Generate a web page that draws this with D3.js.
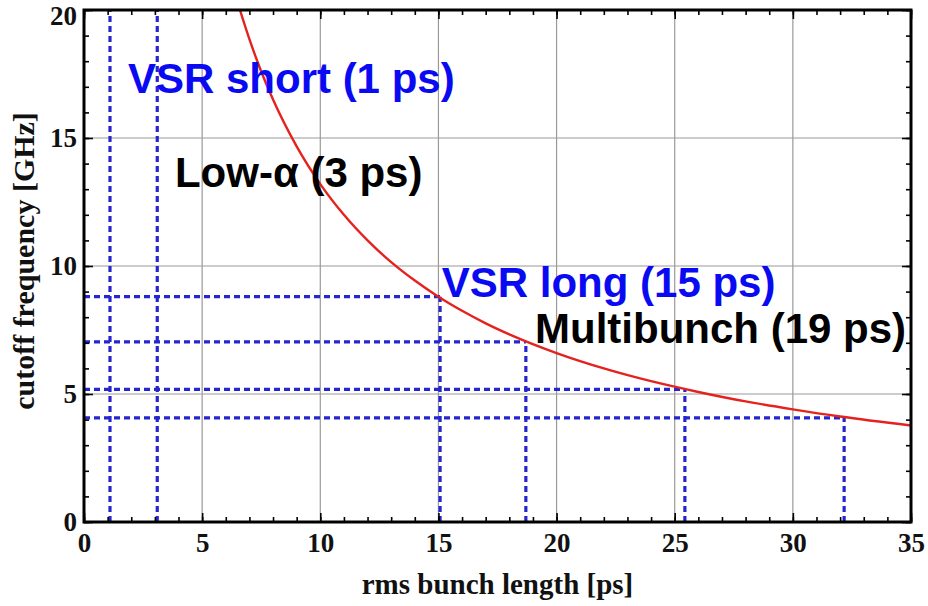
<!DOCTYPE html>
<html>
<head>
<meta charset="utf-8">
<script src="https://cdn.jsdelivr.net/npm/d3@7"></script>
<style>
  body { margin: 0; background: #fff; }
  svg { display: block; }
</style>
</head>
<body>
<div id="graph1"></div>
<script>
// cutoff frequency vs rms bunch length
const xTicks = [0, 5, 10, 15, 20, 25, 30, 35];
const yTicks = [0, 5, 10, 15, 20];

// red curve
const bunchLength = [6.6, 7, 7.5, 8, 9, 10, 11, 12, 13, 14, 15, 16, 17, 18, 20, 22, 24, 26, 28, 30, 32, 35];
const cutoffFreq = [20, 18.86, 17.6, 16.5, 14.67, 13.2, 12.0, 11.0, 10.15, 9.43, 8.8, 8.25, 7.76, 7.33, 6.6, 6.0, 5.5, 5.08, 4.71, 4.4, 4.12, 3.77];

// blue dashed markers (null = full height)
const markerX = [1.1, 3.1, 15.07, 18.7, 25.43, 32.17];
const markerY = [null, null, 8.8, 7.04, 5.18, 4.07];

// annotations
const labelText = ["VSR short (1 ps)", "Low-α (3 ps)", "VSR long (15 ps)", "Multibunch (19 ps)"];
const labelX = [1.86, 3.85, 15.14, 19.09];
const labelY = [16.76, 13.09, 8.8, 6.99];
const labelColor = ["#0a0af2", "#000", "#0a0af2", "#000"];

const width = 928, height = 606;
const margin = {top: 10, right: 17, bottom: 84, left: 84};
const w = width - margin.left - margin.right;
const h = height - margin.top - margin.bottom;

let svg = d3.select("#graph1")
    .append("svg")
    .attr("width", width)
    .attr("height", height)
    .append("g")
    .attr("transform", `translate(${margin.left}, ${margin.top})`);

let x = d3.scaleLinear().domain([0, 35]).range([0, w]);
let y = d3.scaleLinear().domain([0, 20]).range([h, 0]);

// grid
svg.append("g")
    .selectAll("line").data(xTicks.slice(1, -1)).enter()
    .append("line")
    .attr("x1", d => x(d)).attr("x2", d => x(d))
    .attr("y1", 0).attr("y2", h)
    .attr("stroke", "#9a9a9a").attr("stroke-width", 1.2);
svg.append("g")
    .selectAll("line").data(yTicks.slice(1, -1)).enter()
    .append("line")
    .attr("y1", d => y(d)).attr("y2", d => y(d))
    .attr("x1", 0).attr("x2", w)
    .attr("stroke", "#9a9a9a").attr("stroke-width", 1.2);

svg.append("clipPath").attr("id", "clip")
    .append("rect").attr("width", w).attr("height", h);

// dashed markers
let marks = svg.append("g")
    .attr("stroke", "#2626cf")
    .attr("stroke-width", 3.2)
    .attr("stroke-dasharray", "6,4");
marks.selectAll(".v").data(markerX).enter()
    .append("line")
    .attr("x1", d => x(d)).attr("x2", d => x(d))
    .attr("y1", h)
    .attr("y2", (d, i) => markerY[i] == null ? 0 : y(markerY[i]));
marks.selectAll(".hz").data(markerY.filter(d => d != null)).enter()
    .append("line")
    .attr("y1", d => y(d)).attr("y2", d => y(d))
    .attr("x1", 0)
    .attr("x2", d => x(markerX[markerY.indexOf(d)]));

// curve
let line = d3.line()
    .x((d, i) => x(bunchLength[i]))
    .y(d => y(d))
    .curve(d3.curveMonotoneX);
svg.append("path")
    .datum(cutoffFreq)
    .attr("clip-path", "url(#clip)")
    .attr("fill", "none")
    .attr("stroke", "#e4231f")
    .attr("stroke-width", 2.4)
    .attr("d", line);

// minor / major ticks on all four sides, pointing inward
const minorX = d3.range(0, 36), minorY = d3.range(0, 21);
function ticks(axis, vals, size, tr) {
    let g = svg.append("g")
        .attr("transform", tr)
        .call(axis.tickValues(vals).tickSize(size).tickFormat(""));
    g.select(".domain").remove();
    g.selectAll("line").attr("stroke", "#000").attr("stroke-width", 1.6);
}
ticks(d3.axisBottom(x), minorX, -5, `translate(0,${h})`);
ticks(d3.axisTop(x), minorX, -5, "translate(0,0)");
ticks(d3.axisLeft(y), minorY, -5, "translate(0,0)");
ticks(d3.axisRight(y), minorY, -5, `translate(${w},0)`);
ticks(d3.axisBottom(x), xTicks, -9, `translate(0,${h})`);
ticks(d3.axisTop(x), xTicks, -9, "translate(0,0)");
ticks(d3.axisLeft(y), yTicks, -9, "translate(0,0)");
ticks(d3.axisRight(y), yTicks, -9, `translate(${w},0)`);

// frame
svg.append("rect")
    .attr("width", w).attr("height", h)
    .attr("fill", "none").attr("stroke", "#000").attr("stroke-width", 3);

// tick labels
let xAxis = svg.append("g")
    .attr("transform", `translate(0,${h})`)
    .call(d3.axisBottom(x).tickValues(xTicks).tickSize(0).tickPadding(11));
let yAxis = svg.append("g")
    .call(d3.axisLeft(y).tickValues(yTicks).tickSize(0).tickPadding(7));
[xAxis, yAxis].forEach(g => {
    g.select(".domain").remove();
    g.selectAll("text")
        .attr("fill", "#111")
        .style("font-family", "'Liberation Serif', 'Times New Roman', serif")
        .style("font-weight", "bold")
        .style("font-size", "27px");
});
// top label sits right at the edge of the picture, push it just inside
yAxis.selectAll("text").filter(d => d == 20).attr("dy", "0.54em");

// axis titles
svg.append("text")
    .attr("transform", `translate(${w / 2}, ${h + 72})`)
    .style("text-anchor", "middle")
    .style("font-family", "'Liberation Serif', 'Times New Roman', serif")
    .style("font-weight", "bold")
    .style("font-size", "29px")
    .attr("fill", "#111")
    .text("rms bunch length [ps]");

svg.append("text")
    .attr("transform", `translate(-50, ${h / 2 - 5}) rotate(-90)`)
    .style("text-anchor", "middle")
    .style("font-family", "'Liberation Serif', 'Times New Roman', serif")
    .style("font-weight", "bold")
    .style("font-size", "30px")
    .attr("fill", "#111")
    .text("cutoff frequency [GHz]");

// annotations
svg.append("g")
    .selectAll("text").data(labelText).enter()
    .append("text")
    .attr("x", (d, i) => x(labelX[i]))
    .attr("y", (d, i) => y(labelY[i]))
    .attr("fill", (d, i) => labelColor[i])
    .style("font-family", "'Liberation Sans', Arial, sans-serif")
    .style("font-weight", "bold")
    .style("font-size", "42px")
    .text(d => d);
</script>
</body>
</html>
